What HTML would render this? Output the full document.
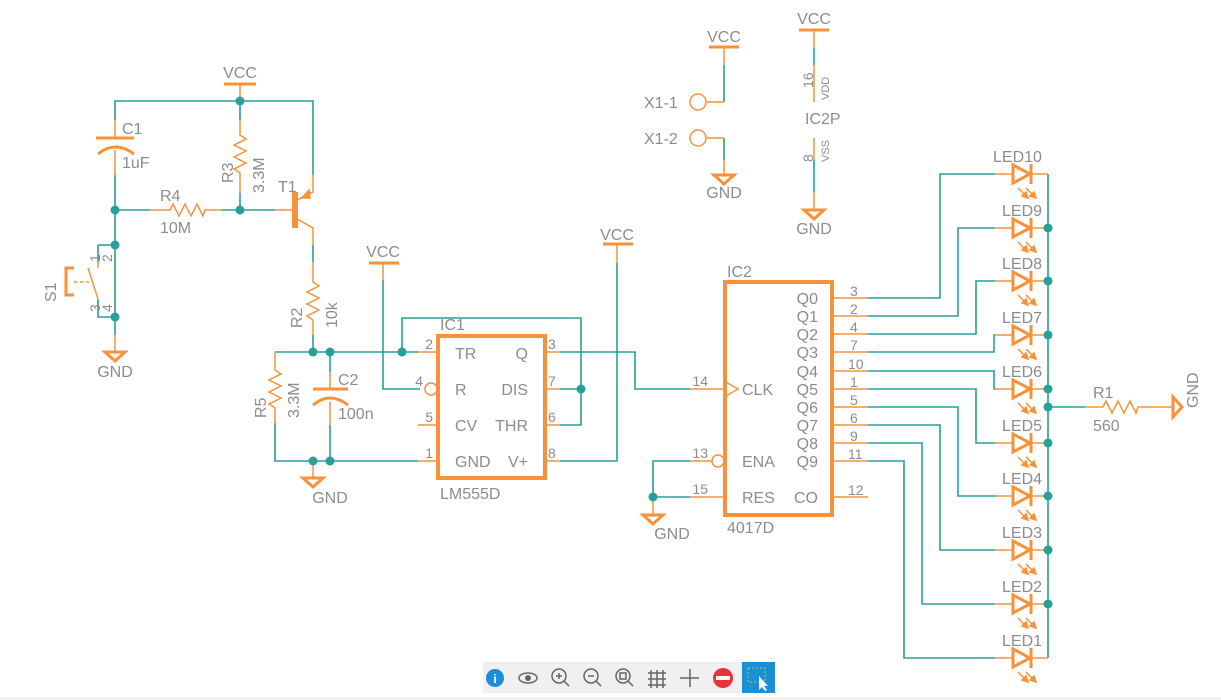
<!DOCTYPE html>
<html><head><meta charset="utf-8"><style>
html,body{margin:0;padding:0;background:#fff;width:1221px;height:700px;overflow:hidden}
svg{display:block}
text{font-family:"Liberation Sans",sans-serif;fill:#8c8c8c}
</style></head><body>
<svg width="1221" height="700" viewBox="0 0 1221 700" xmlns="http://www.w3.org/2000/svg">
<defs>
<g id="led">
<line x1="995" y1="0" x2="1012" y2="0" stroke="#f7923a" stroke-width="1.5"/>
<line x1="1030" y1="0" x2="1048" y2="0" stroke="#f7923a" stroke-width="1.5"/>
<path d="M1013,-9 L1030,0 L1013,9 Z" fill="none" stroke="#f7923a" stroke-width="3"/>
<line x1="1031" y1="-10" x2="1031" y2="10" stroke="#f7923a" stroke-width="3"/>
<g stroke="#f7923a" stroke-width="1.5" fill="#f7923a">
<line x1="1018" y1="14" x2="1026" y2="22"/><path d="M1028,24 L1022,22 L1026,18 Z"/>
<line x1="1026" y1="14" x2="1034" y2="22"/><path d="M1036,24 L1030,22 L1034,18 Z"/>
</g>
</g>
<g id="gnd"><path d="M-10,0 L10,0 L0,9 Z" fill="none" stroke="#f7923a" stroke-width="3"/></g>
<g id="dot"><circle r="4.5" fill="#26a09a"/></g>
</defs>

<g fill="none" stroke="#26a09a" stroke-width="1.6">
<path d="M115,120 V101 H313 V175"/>
<path d="M240,101 V120 M240,193 V210"/>
<path d="M115,175 V317 M115,210 H150 M222,210 H275"/>
<path d="M98,245 H115 M98,245 V262 M98,300 V317 H115 M115,317 V335"/>
<path d="M313,245 V262 M313,335 V352"/>
<path d="M275,352 H418 M275,423 V461 H418 M330,352 V372 M330,425 V461 M313,461 V462"/>
<path d="M383,280 V389 H420"/>
<path d="M402,352 V318 H581 V425 H560 M560,389 H581"/>
<path d="M560,352 H635 V389 H690"/>
<path d="M560,461 H617 V263"/>
<path d="M690,461 H653 V497 H690"/>
<path d="M724,65 V102 M724,138 V160"/>
<path d="M814,48 V65 M814,160 V192"/>
<path d="M868,298 H940 V174 H995 M868,316 H958 V228 H995 M868,334 H976 V281 H995 M868,352 H994 V335 H995 M868,371 H994 V389 H995 M868,389 H976 V443 H995 M868,407 H958 V496 H995 M868,425 H940 V550 H995 M868,443 H922 V604 H995 M868,461 H904 V658 H995"/>
<path d="M1048,174 V658 M1048,407 H1085"/>
</g>

<g fill="none" stroke="#f7923a" stroke-width="1.5">
<path d="M115,120 V138 M115,150 V175"/>
<path d="M98,154 Q115,140 134,154" stroke-width="3"/>
<path d="M150,210 H170 L173,204 L179,216 L185,204 L191,216 L197,204 L203,216 L205,210 H222"/>
<path d="M240,84 V101 M240,120 V135 L246,139 L234,145 L246,151 L234,157 L246,163 L234,169 L240,173 V193"/>
<path d="M275,210 H292 M297,200 L313,192 V175 M297,219 L313,228 V245"/>
<path d="M302,198 L309,190 L310,198 Z" fill="#f7923a"/>
<path d="M313,262 V282 L319,286 L307,292 L319,298 L307,304 L319,310 L307,316 L313,320 V335"/>
<path d="M98,262 V268 M88,268 L98,299 M98,299 V300"/>
<path d="M74,268 H66 V295 H74" stroke-width="3"/>
<path d="M74,282 H90" stroke-dasharray="3,3"/>
<path d="M115,335 V352"/>
<path d="M275,352 V370 L281,374 L269,380 L281,386 L269,392 L281,398 L269,404 L275,408 V423"/>
<path d="M330,372 V389 M330,402 V425"/>
<path d="M313,405 Q330,391 348,405" stroke-width="3"/>
<path d="M313,461 V478"/>
<path d="M418,352 H437 M418,461 H437 M418,425 H437 M546,352 H560 M546,389 H560 M546,425 H560 M546,461 H560"/>
<circle cx="431" cy="389" r="6"/>
<path d="M383,263 V280 M617,244 V263"/>
<path d="M690,389 H725 M690,497 H725 M690,461 H712 M653,497 V515"/>
<circle cx="718" cy="461" r="6"/>
<path d="M726,382 L738,389 L726,396"/>
<path d="M832,298 H868 M832,316 H868 M832,334 H868 M832,352 H868 M832,371 H868 M832,389 H868 M832,407 H868 M832,425 H868 M832,443 H868 M832,461 H868 M832,497 H868"/>
<path d="M724,47 V65 M724,102 H707 M724,138 H707 M724,160 V175"/>
<circle cx="698" cy="102" r="8"/><circle cx="698" cy="138" r="8"/>
<path d="M814,30 V48 M814,65 V102 M814,138 V160 M814,192 V210"/>
<path d="M1085,407 H1103 L1106,401 L1112,413 L1118,401 L1124,413 L1130,401 L1136,413 L1138,407 H1172"/>
<path d="M1173,397 V417 L1182,407 Z" stroke-width="3"/>
</g>
<g stroke="#f7923a" stroke-width="3" fill="none">
<path d="M96,138 H134 M313,389 H348"/>
<path d="M224,84 H256 M369,263 H399 M603,244 H633 M709,47 H739 M799,30 H829"/>
</g>
<rect x="292" y="192" width="6" height="36" fill="#f7923a"/>
<rect x="438" y="336" width="107" height="142" fill="none" stroke="#f7923a" stroke-width="4"/>
<rect x="725" y="282" width="107" height="233" fill="none" stroke="#f7923a" stroke-width="4"/>

<use href="#gnd" x="115" y="352"/><use href="#gnd" x="313" y="478"/><use href="#gnd" x="653" y="515"/>
<use href="#gnd" x="724" y="175"/><use href="#gnd" x="814" y="210"/>

<use href="#led" y="174"/><use href="#led" y="228"/><use href="#led" y="281"/><use href="#led" y="335"/><use href="#led" y="389"/>
<use href="#led" y="443"/><use href="#led" y="496"/><use href="#led" y="550"/><use href="#led" y="604"/><use href="#led" y="658"/>

<use href="#dot" x="240" y="101"/><use href="#dot" x="115" y="210"/><use href="#dot" x="240" y="210"/>
<use href="#dot" x="115" y="245"/><use href="#dot" x="115" y="317"/>
<use href="#dot" x="313" y="352"/><use href="#dot" x="330" y="352"/><use href="#dot" x="402" y="352"/>
<use href="#dot" x="313" y="461"/><use href="#dot" x="330" y="461"/><use href="#dot" x="581" y="389"/>
<use href="#dot" x="653" y="497"/>
<use href="#dot" x="1048" y="228"/><use href="#dot" x="1048" y="281"/><use href="#dot" x="1048" y="335"/>
<use href="#dot" x="1048" y="389"/><use href="#dot" x="1048" y="407"/><use href="#dot" x="1048" y="443"/>
<use href="#dot" x="1048" y="496"/><use href="#dot" x="1048" y="550"/><use href="#dot" x="1048" y="604"/>

<g font-size="16">
<text x="240" y="78" text-anchor="middle">VCC</text>
<text x="383" y="257" text-anchor="middle">VCC</text>
<text x="617" y="240" text-anchor="middle">VCC</text>
<text x="724" y="42" text-anchor="middle">VCC</text>
<text x="814" y="24" text-anchor="middle">VCC</text>
<text x="115" y="377" text-anchor="middle">GND</text>
<text x="330" y="503" text-anchor="middle">GND</text>
<text x="672" y="539" text-anchor="middle">GND</text>
<text x="724" y="198" text-anchor="middle">GND</text>
<text x="814" y="234" text-anchor="middle">GND</text>
<text x="122" y="134">C1</text><text x="122" y="168">1uF</text>
<text x="160" y="201">R4</text><text x="160" y="233">10M</text>
<text x="278" y="192">T1</text>
<text transform="translate(233,183) rotate(-90)">R3</text>
<text transform="translate(264,193) rotate(-90)">3.3M</text>
<text transform="translate(302,328) rotate(-90)">R2</text>
<text transform="translate(337,328) rotate(-90)">10k</text>
<text transform="translate(56,302) rotate(-90)">S1</text>
<text transform="translate(266,418) rotate(-90)">R5</text>
<text transform="translate(299,418) rotate(-90)">3.3M</text>
<text x="338" y="385">C2</text><text x="338" y="419">100n</text>
<text x="440" y="330">IC1</text><text x="440" y="499">LM555D</text>
<text x="727" y="277">IC2</text><text x="727" y="533">4017D</text>
<text x="644" y="108">X1-1</text><text x="644" y="144">X1-2</text>
<text x="805" y="124">IC2P</text>
<text x="993" y="162">LED10</text><text x="1002" y="216">LED9</text><text x="1002" y="269">LED8</text>
<text x="1002" y="323">LED7</text><text x="1002" y="377">LED6</text><text x="1002" y="431">LED5</text>
<text x="1002" y="484">LED4</text><text x="1002" y="538">LED3</text><text x="1002" y="592">LED2</text>
<text x="1002" y="646">LED1</text>
<text x="1093" y="398">R1</text><text x="1093" y="431">560</text>
<text transform="translate(1198,408) rotate(-90)">GND</text>
<text x="455" y="359">TR</text><text x="455" y="395">R</text><text x="455" y="431">CV</text><text x="455" y="467">GND</text>
<text x="528" y="359" text-anchor="end">Q</text><text x="528" y="395" text-anchor="end">DIS</text>
<text x="528" y="431" text-anchor="end">THR</text><text x="528" y="467" text-anchor="end">V+</text>
<text x="742" y="395">CLK</text><text x="742" y="467">ENA</text><text x="742" y="503">RES</text>
<text x="818" y="503" text-anchor="end">CO</text>
<g text-anchor="end">
<text x="818" y="304">Q0</text><text x="818" y="322">Q1</text><text x="818" y="340">Q2</text><text x="818" y="358">Q3</text>
<text x="818" y="377">Q4</text><text x="818" y="395">Q5</text><text x="818" y="413">Q6</text><text x="818" y="431">Q7</text>
<text x="818" y="449">Q8</text><text x="818" y="467">Q9</text>
</g>
</g>
<g font-size="14">
<text x="433" y="349" text-anchor="end">2</text><text x="423" y="386" text-anchor="end">4</text>
<text x="433" y="422" text-anchor="end">5</text><text x="433" y="458" text-anchor="end">1</text>
<text x="548" y="349">3</text><text x="548" y="386">7</text><text x="548" y="422">6</text><text x="548" y="458">8</text>
<text x="708" y="386" text-anchor="end">14</text><text x="708" y="458" text-anchor="end">13</text><text x="708" y="494" text-anchor="end">15</text>
<text x="850" y="296">3</text><text x="850" y="314">2</text><text x="850" y="332">4</text><text x="850" y="350">7</text>
<text x="848" y="369">10</text><text x="850" y="387">1</text><text x="850" y="405">5</text><text x="850" y="423">6</text>
<text x="850" y="441">9</text><text x="848" y="459">11</text><text x="848" y="495">12</text>
<text transform="translate(100,262) rotate(-90)">1</text><text transform="translate(112,262) rotate(-90)">2</text>
<text transform="translate(100,312) rotate(-90)">3</text><text transform="translate(112,312) rotate(-90)">4</text>
<text transform="translate(813,88) rotate(-90)">16</text>
<text transform="translate(813,162) rotate(-90)">8</text>
</g>
<g font-size="11">
<text transform="translate(829,100) rotate(-90)">VDD</text>
<text transform="translate(829,162) rotate(-90)">VSS</text>
</g>

<rect x="483" y="662" width="292" height="31" fill="#f0f0f0"/>
<rect x="742" y="662" width="33" height="31" fill="#1a8fd6"/>
<rect x="0" y="697" width="1221" height="3" fill="#f3f3f3"/>
<circle cx="495" cy="678" r="9" fill="#1a8fd6"/><text x="495" y="683" font-size="12" text-anchor="middle" style="fill:#fff;font-weight:bold">i</text>
<ellipse cx="528" cy="678" rx="9" ry="5" fill="none" stroke="#666" stroke-width="1.5"/><circle cx="528" cy="678" r="3" fill="#666"/>
<g fill="none" stroke="#666" stroke-width="1.5">
<circle cx="559" cy="676" r="7"/><path d="M556,676 H562 M559,673 V679 M564,681 L569,686"/>
<circle cx="591" cy="676" r="7"/><path d="M588,676 H594 M596,681 L601,686"/>
<circle cx="623" cy="676" r="7"/><rect x="620" y="673" width="6" height="6"/><path d="M628,681 L633,686"/>
<path d="M651,670 V688 M657,670 V688 M663,670 V688 M648,673 H666 M648,679 H666 M648,685 H666"/>
<path d="M680,678 H699 M690,669 V687"/>
</g>
<circle cx="723" cy="678" r="10" fill="#e8323a"/><rect x="716" y="676" width="14" height="4" fill="#fff"/>
<rect x="748" y="668" width="17" height="14" fill="none" stroke="#8fd16a" stroke-dasharray="2,2"/>
<path d="M759,676 L759,690 L762,687 L765,691 L767,690 L764,686 L768,686 Z" fill="#fff"/>
</svg>
</body></html>
